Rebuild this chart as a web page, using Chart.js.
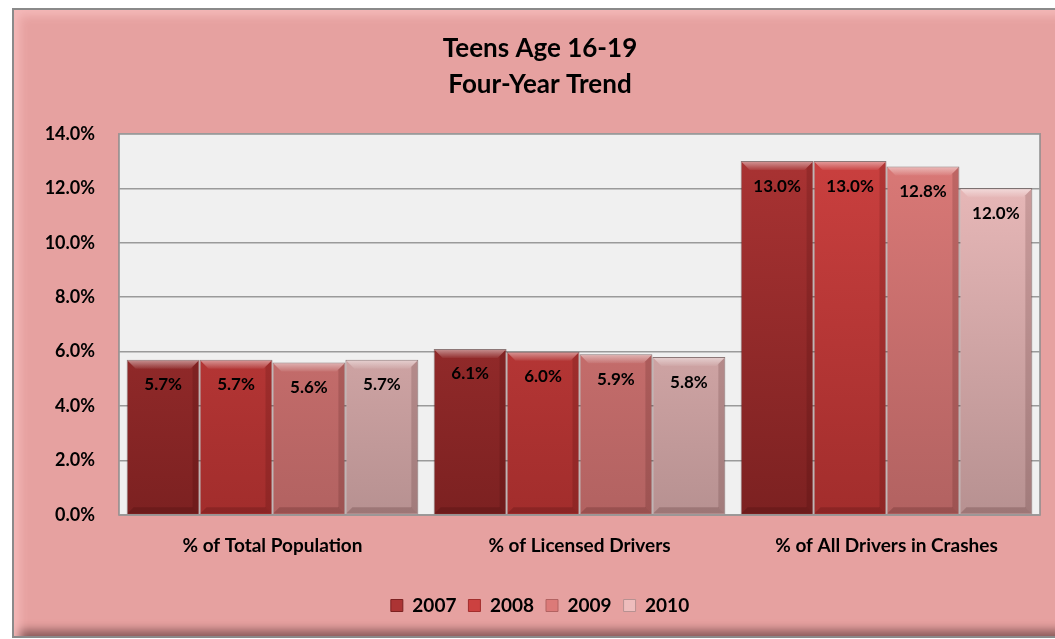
<!DOCTYPE html>
<html>
<head>
<meta charset="utf-8">
<script src="https://cdn.jsdelivr.net/npm/chart.js@4.4.0/dist/chart.umd.min.js"></script>
<style>
  html, body { margin: 0; padding: 0; background: #fff; overflow: hidden; }
  #frame {
    position: absolute; left: 12px; top: 8px; width: 1060px; height: 626px;
    background: #E6A1A0;
    border: 2px solid #8a8a8a;
    box-shadow: inset 14px 14px 10px -8px #f4b8b8, inset -4px -12px 10px -6px #8c5c5c;
  }
  #wrap { position: absolute; left: 0; top: 0; width: 1055px; height: 639px; }
</style>
</head>
<body>
<div id="frame"></div>
<div id="wrap"><canvas id="teenChart"></canvas></div>
<script>
// categories and series
var categories = ['% of Total Population', '% of Licensed Drivers', '% of All Drivers in Crashes'];
var years = ['2007', '2008', '2009', '2010'];
var v2007 = [5.7, 6.1, 13.0];
var v2008 = [5.7, 6.0, 13.0];
var v2009 = [5.6, 5.9, 12.8];
var v2010 = [5.7, 5.8, 12.0];
var yTicks = [0, 2, 4, 6, 8, 10, 12, 14];

// top / bottom shades per year
var shades = [
    ['#AC3434', '#7C2121'],
    ['#CC4140', '#A22D2C'],
    ['#DC7A78', '#B26261'],
    ['#EEBDBD', '#B79191']
];

function barGradient(idx) {
    return function (ctx) {
        var chart = ctx.chart;
        var area = chart.chartArea;
        if (!area) return shades[idx][0];
        var g = chart.ctx.createLinearGradient(0, area.top, 0, area.bottom);
        g.addColorStop(0, shades[idx][0]);
        g.addColorStop(1, shades[idx][1]);
        return g;
    };
}

var seriesValues = [v2007, v2008, v2009, v2010];
var datasets = years.map(function (yr, i) {
    return {
        label: yr,
        data: seriesValues[i],
        backgroundColor: barGradient(i),
        borderColor: 'rgba(60,20,20,0.55)',
        borderWidth: 1,
        categoryPercentage: 0.95,
        barPercentage: 1.0
    };
});

// bevel highlight on bars + value labels
var barDecor = {
    id: 'barDecor',
    afterDatasetsDraw: function (chart) {
        var ctx = chart.ctx;
        chart.data.datasets.forEach(function (ds, i) {
            var meta = chart.getDatasetMeta(i);
            meta.data.forEach(function (bar, j) {
                var left = bar.x - bar.width / 2;
                var right = bar.x + bar.width / 2;
                var top = bar.y;
                var bottom = bar.base;
                ctx.save();
                var hg = ctx.createLinearGradient(0, top, 0, top + 9);
                hg.addColorStop(0, 'rgba(255,255,255,0.5)');
                hg.addColorStop(1, 'rgba(255,255,255,0.05)');
                ctx.fillStyle = hg;
                ctx.beginPath();
                ctx.moveTo(left + 1, top + 1);
                ctx.lineTo(right - 1, top + 1);
                ctx.lineTo(right - 9, top + 9);
                ctx.lineTo(left + 9, top + 9);
                ctx.closePath();
                ctx.fill();
                ctx.fillStyle = 'rgba(40,0,0,0.15)';
                ctx.beginPath();
                ctx.moveTo(right - 1, top + 1);
                ctx.lineTo(right - 1, bottom - 1);
                ctx.lineTo(right - 7, bottom - 7);
                ctx.lineTo(right - 7, top + 7);
                ctx.closePath();
                ctx.fill();
                ctx.fillStyle = 'rgba(40,0,0,0.18)';
                ctx.beginPath();
                ctx.moveTo(left + 1, bottom - 1);
                ctx.lineTo(right - 1, bottom - 1);
                ctx.lineTo(right - 7, bottom - 7);
                ctx.lineTo(left + 7, bottom - 7);
                ctx.closePath();
                ctx.fill();
                // label
                ctx.fillStyle = '#000';
                ctx.font = 'bold 17px Lato';
                ctx.textAlign = 'center';
                ctx.textBaseline = 'middle';
                ctx.fillText(ds.data[j].toFixed(1) + '%', bar.x, top + 25);
                ctx.restore();
            });
        });
    }
};

// plot area background
var plotBg = {
    id: 'plotBg',
    beforeDraw: function (chart) {
        var a = chart.chartArea;
        var ctx = chart.ctx;
        ctx.save();
        ctx.fillStyle = '#F0F0F0';
        ctx.fillRect(a.left, a.top, a.right - a.left, a.bottom - a.top);
        ctx.strokeStyle = '#8c8c8c';
        ctx.lineWidth = 1.5;
        ctx.strokeRect(a.left, a.top, a.right - a.left, a.bottom - a.top);
        ctx.restore();
    }
};

new Chart('teenChart', {
    type: 'bar',
    data: { labels: categories, datasets: datasets },
    plugins: [plotBg, barDecor],
    options: {
        responsive: true,
        maintainAspectRatio: false,
        animation: false,
        layout: { padding: { left: 40, right: 15, top: 0, bottom: 14 } },
        plugins: {
            title: {
                display: true,
                text: ['Teens Age 16-19', 'Four-Year Trend'],
                color: '#000',
                font: { family: 'Lato', size: 26, weight: 'bold', lineHeight: 1.4 },
                padding: { top: 30, bottom: 31 }
            },
            legend: {
                position: 'bottom',
                labels: {
                    color: '#000',
                    font: { family: 'Lato', size: 19, weight: 'bold' },
                    boxWidth: 12,
                    boxHeight: 12,
                    padding: 12,
                    generateLabels: function (chart) {
                        return years.map(function (yr, i) {
                            return {
                                text: yr,
                                fillStyle: shades[i][0],
                                strokeStyle: shades[i][1],
                                lineWidth: 1,
                                datasetIndex: i
                            };
                        });
                    }
                }
            },
            tooltip: { enabled: false }
        },
        scales: {
            x: {
                grid: { display: false },
                border: { display: false },
                ticks: {
                    color: '#000',
                    font: { family: 'Lato', size: 19, weight: 'bold' },
                    padding: 11
                },
                afterFit: function (s) { s.height = 69; }
            },
            y: {
                min: 0,
                max: 14,
                afterBuildTicks: function (s) {
                    s.ticks = yTicks.map(function (v) { return { value: v }; });
                },
                grid: { color: '#9a9a9a', lineWidth: 1.5, drawTicks: false },
                border: { display: false },
                ticks: {
                    color: '#000',
                    font: { family: 'Lato', size: 18, weight: 'bold' },
                    padding: 24,
                    callback: function (v) { return v.toFixed(1) + '%'; }
                },
                afterFit: function (s) { s.width = 79; }
            }
        }
    }
});
</script>
</body>
</html>
